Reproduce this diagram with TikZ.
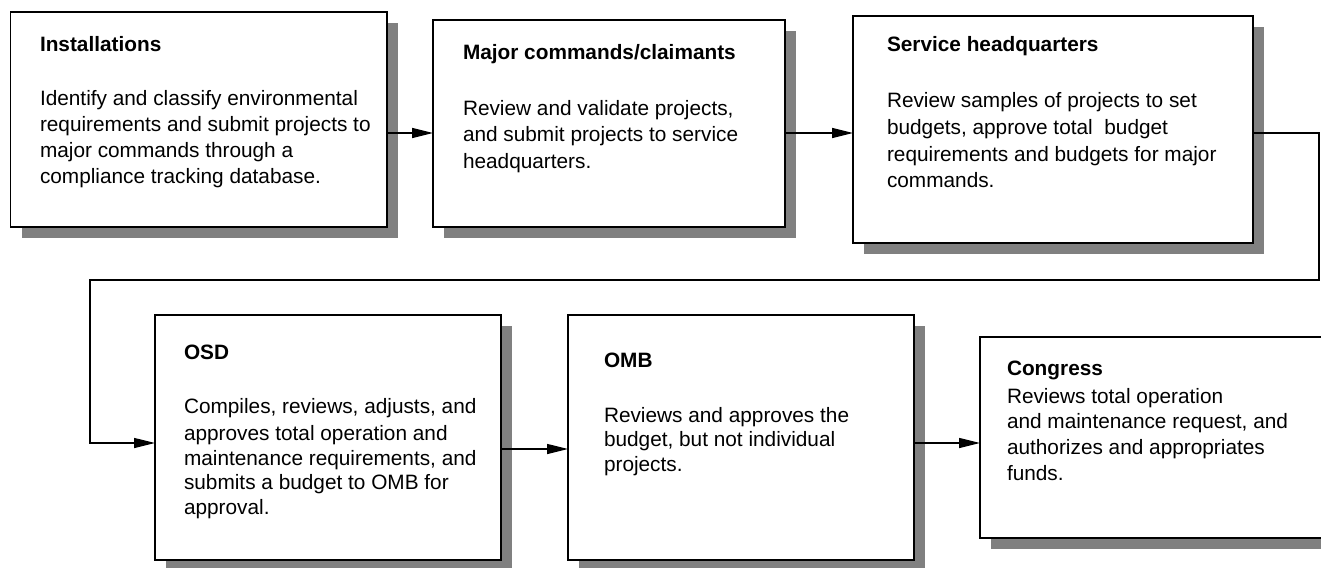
\documentclass[tikz,border=0pt]{standalone}
\usepackage{fontspec}
\setmainfont{Liberation Sans}
\usetikzlibrary{arrows.meta,shadows}
\definecolor{shadowgray}{HTML}{808080}
\newcommand\bodytext[2]{\parbox[t]{440pt}{\fontsize{20.8}{#1}\selectfont #2}}
\newcommand\titletext[1]{\parbox[t]{440pt}{\fontsize{20.8}{25}\selectfont\bfseries #1}}
\tikzset{
  procbox/.style={draw=black, line width=1.8pt, fill=white, rectangle, inner sep=0pt, outer sep=0pt,
    anchor=north west,
    drop shadow={shadow xshift=11pt, shadow yshift=-11pt, fill=shadowgray, opacity=1, draw=none}},
  txt/.style={inner sep=0pt, outer sep=0pt, anchor=base west},
  conn/.style={draw=black, line width=1.3pt, -{Triangle[length=21pt,width=10pt]}},
}
\begin{document}
\begin{tikzpicture}[x=1pt,y=-1pt]
\useasboundingbox (0,0) rectangle (1321,567);
\clip (0,0) rectangle (1321,567);
% boxes
\node[procbox, minimum width=376.5pt, minimum height=215pt] (b1) at (10.5,12) {};
\node[procbox, minimum width=352pt, minimum height=207pt] (b2) at (433,20) {};
\node[procbox, minimum width=400pt, minimum height=227pt] (b3) at (853,16) {};
\node[procbox, minimum width=346pt, minimum height=245pt] (b4) at (155,315) {};
\node[procbox, minimum width=346pt, minimum height=245pt] (b5) at (568,315) {};
\node[procbox, minimum width=380pt, minimum height=201pt] (b6) at (980,337) {};
% texts
\node[txt] (t1) at (40,52) {\titletext{Installations}};
\node[txt] (d1) at (40,106) {\bodytext{25.7}{Identify and classify environmental\\requirements and submit projects to\\major commands through a\\compliance tracking database.}};
\node[txt] (t2) at (463,60) {\titletext{Major commands/claimants}};
\node[txt] (d2) at (463,115) {\bodytext{26.5}{Review and validate projects,\\and submit projects to service\\headquarters.}};
\node[txt] (t3) at (887,52) {\titletext{Service headquarters}};
\node[txt] (d3) at (887,108) {\bodytext{26.5}{Review samples of projects to set\\budgets, approve total\ \ budget\\requirements and budgets for major\\commands.}};
\node[txt] (t4) at (184,359) {\titletext{OSD}};
\node[txt] (d4) at (184,413) {\bodytext{24.5}{Compiles, reviews, adjusts, and\\[3pt]approves total operation and\\maintenance requirements, and\\submits a budget to OMB for\\approval.}};
\node[txt] (t5) at (604,367) {\titletext{OMB}};
\node[txt] (d5) at (604,422) {\bodytext{24.5}{Reviews and approves the\\budget, but not individual\\projects.}};
\node[txt] (t6) at (1007,375) {\titletext{Congress}};
\node[txt] (d6) at (1007,403) {\bodytext{25.7}{Reviews total operation\\and maintenance request, and\\authorizes and appropriates\\funds.}};
% connector helpers
\coordinate (r1) at (0,133);
\coordinate (r2) at (0,443);
\coordinate (r3) at (0,449);
\coordinate (c1) at (1319,280);
\coordinate (c2) at (90,443);
% connectors
\draw[conn] (b1.east |- r1) -- (b2.west |- r1);
\draw[conn] (b2.east |- r1) -- (b3.west |- r1);
\draw[conn] (b3.east |- r1) -| (c1) -| (c2) -- (b4.west |- c2);
\draw[conn] (b4.east |- r3) -- (b5.west |- r3);
\draw[conn] (b5.east |- r2) -- (b6.west |- r2);
\end{tikzpicture}
\end{document}
